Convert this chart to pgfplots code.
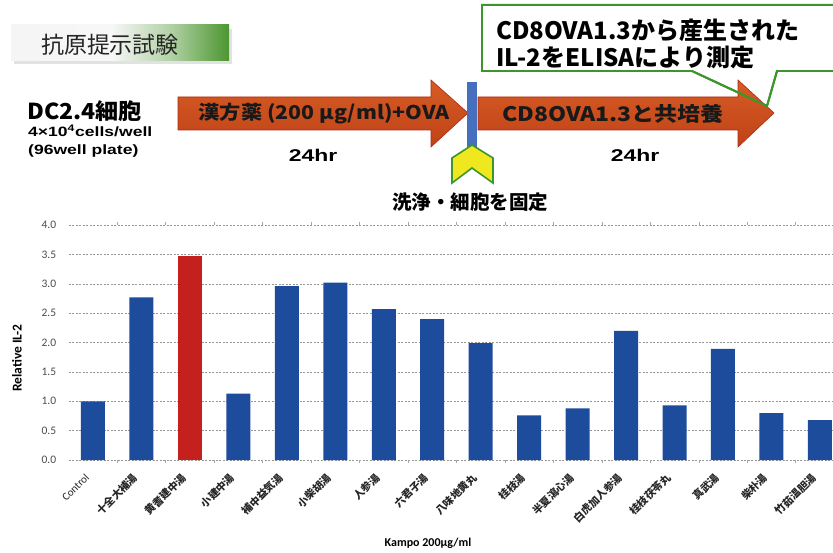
\documentclass[border=0pt]{standalone}
\usepackage{graphicx}
\usepackage{pgfplots}
\pgfplotsset{compat=1.18}
\usepackage{fontspec}
\setmainfont{Carlito}
\newfontfamily\cjk{Noto Sans CJK JP}
\newfontfamily\lib{Liberation Sans}

\definecolor{barblue}{RGB}{30,76,156}
\definecolor{barred}{RGB}{196,32,30}
\definecolor{arrowtop}{RGB}{214,92,36}
\definecolor{arrowbot}{RGB}{192,66,24}
\definecolor{arrowedge}{RGB}{170,44,20}
\definecolor{calloutgreen}{RGB}{60,150,44}
\definecolor{titlegreen}{RGB}{76,150,48}
\definecolor{stepblue}{RGB}{70,112,190}
\definecolor{chevyellow}{RGB}{240,232,30}
\definecolor{gridgray}{RGB}{150,150,150}

\pgfdeclarehorizontalshading{titleshade}{100bp}{%
  color(0bp)=(gray!8); color(25bp)=(gray!8); color(48bp)=(gray!6);
  color(62bp)=(titlegreen!45!white); color(75bp)=(titlegreen); color(100bp)=(titlegreen)}

% Kampo formulas, relative IL-2 production
\pgfplotstableread{
idx val
0  1.00
1  2.77
3  1.13
4  2.96
5  3.02
6  2.57
7  2.40
8  1.99
9  0.76
10 0.88
11 2.20
12 0.93
13 1.89
14 0.80
15 0.68
}\bluebars
\pgfplotstableread{
idx val
2  3.48
}\redbars

\newcommand{\wide}[2]{\scalebox{#1}[1]{#2}}

\begin{document}
\begin{tikzpicture}
\path[use as bounding box, fill=white] (0,0) rectangle (833pt,-553pt);

\begin{scope}[x=1pt,y=-1pt]
  % title plate
  \fill[gray!45, opacity=0.5] (14,29) rectangle (232,64);
  \shade[shading=titleshade] (11,25) rectangle (229,61);
  \node[font=\cjk\fontsize{23}{26}\selectfont, text=black!85, anchor=center] at (110,45) {抗原提示試験};

  % cell description
  \node[font=\cjk\bfseries\fontsize{22}{24}\selectfont, anchor=base west, inner sep=0pt] at (27,120) {\wide{1.05}{DC2.4細胞}};
  \node[font=\lib\bfseries\fontsize{13.5}{14}\selectfont, anchor=base west, inner sep=0pt] at (28,137) {\wide{1.3}{4×10\textsuperscript{4}cells/well}};
  \node[font=\lib\bfseries\fontsize{13.5}{14}\selectfont, anchor=base west, inner sep=0pt] at (28,155) {\wide{1.3}{(96well plate)}};

  % first incubation arrow
  \path[top color=arrowtop, bottom color=arrowbot, draw=arrowedge, line width=0.6pt]
    (178,97) -- (431,97) -- (431,80) -- (468,113) -- (431,147) -- (431,130) -- (178,130) -- cycle;
  \node[font=\cjk\bfseries\fontsize{19}{20}\selectfont, text=black!90] at (324,114) {\wide{1.12}{漢方薬 (200 μg/ml)+OVA}};

  % second incubation arrow
  \path[top color=arrowtop, bottom color=arrowbot, draw=arrowedge, line width=0.6pt]
    (478,97) -- (738,97) -- (738,80) -- (774,113) -- (738,147) -- (738,130) -- (478,130) -- cycle;
  \node[font=\cjk\bfseries\fontsize{20}{22}\selectfont, text=black!90] at (613,114) {\wide{1.15}{CD8OVA1.3と共培養}};

  \node[font=\lib\bfseries\fontsize{17}{18}\selectfont] at (313,155) {\wide{1.35}{24hr}};
  \node[font=\lib\bfseries\fontsize{17}{18}\selectfont] at (635,155) {\wide{1.35}{24hr}};

  % wash / fix marker
  \fill[stepblue] (467,82) rectangle (477,153);
  \filldraw[fill=chevyellow, draw=calloutgreen, line width=1.6pt, line join=miter]
    (472,145) -- (493,158) -- (493,183) -- (472,168) -- (452,183) -- (452,158) -- cycle;
  \node[font=\cjk\bfseries\fontsize{19.5}{21}\selectfont] at (470,202) {洗浄・細胞を固定};

  % measurement callout
  \draw[calloutgreen, line width=2pt, line join=miter]
    (692,71) -- (482,71) -- (482,5) -- (845,5) -- (845,71) -- (777,71) -- (767,106) -- cycle;
  \fill[white] (483,6) rectangle (844,70);
  \draw[calloutgreen, line width=2pt] (692,71) -- (767,106) -- (777,71);
  \node[font=\cjk\bfseries\fontsize{24}{27}\selectfont, anchor=west, inner sep=0pt] at (496,30) {CD8OVA1.3から産生された};
  \node[font=\cjk\bfseries\fontsize{24}{27}\selectfont, anchor=west, inner sep=0pt] at (496,57) {IL-2をELISAにより測定};

  % axis titles
  \node[font=\bfseries\fontsize{13.5}{15}\selectfont, rotate=90] at (17,358) {Relative IL-2};
  \node[font=\bfseries\fontsize{12}{14}\selectfont] at (428,543) {Kampo 200µg/ml};
\end{scope}

\begin{axis}[
  at={(68.75pt,-460pt)}, anchor=south west,
  scale only axis, width=764.25pt, height=235pt,
  xmin=-0.5, xmax=15.27, ymin=0, ymax=4,
  ytick={0,0.5,...,4},
  xtick={0,...,15},
  minor xtick={0.5,1.5,...,14.5},
  xticklabels={{\rmfamily\mdseries\fontsize{11}{12}\selectfont Control},十全大補湯,黄耆建中湯,小建中湯,補中益気湯,小柴胡湯,人参湯,六君子湯,八味地黄丸,桂枝湯,半夏瀉心湯,白虎加人参湯,桂枝茯苓丸,真武湯,柴朴湯,竹茹温胆湯},
  xticklabel style={font=\cjk\bfseries\fontsize{10.5}{11}\selectfont, text=black!85,
    xshift=-5pt, yshift=-15pt, rotate=45, anchor=east, inner sep=1pt},
  yticklabel style={font=\fontsize{11.5}{12}\selectfont, text=black!70, xshift=-9pt,
    /pgf/number format/.cd, fixed, fixed zerofill, precision=1},
  /pgf/number format/assume math mode=true,
  major tick length=0pt,
  minor tick length=3pt,
  tick align=outside,
  minor tick style={gray!70, line width=0.5pt},
  axis line style={draw=none},
  ymajorgrids,
  grid style={gridgray, line width=0.5pt, dash pattern=on 2pt off 1.5pt},
  clip=true,
]
\addplot[ybar, bar width=24pt, fill=barblue, draw=none] table[x=idx, y=val] {\bluebars};
\addplot[ybar, bar width=24pt, fill=barred, draw=none] table[x=idx, y=val] {\redbars};
\end{axis}
\end{tikzpicture}
\end{document}
